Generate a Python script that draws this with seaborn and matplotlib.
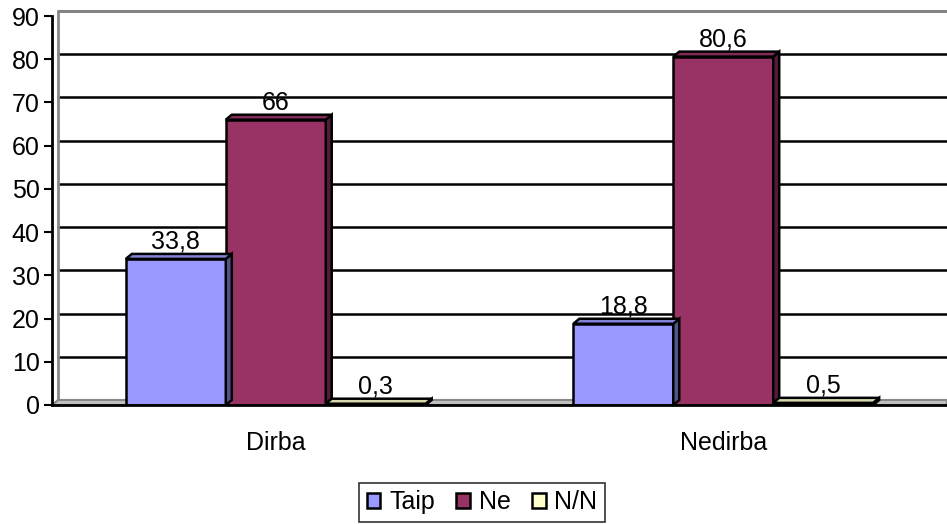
import pandas as pd
import numpy as np
import matplotlib.pyplot as plt
import matplotlib.colors as mcolors
from matplotlib.patches import Polygon
import seaborn as sns

sns.set_style('white')
plt.rcParams['font.family'] = ['Liberation Sans', 'DejaVu Sans']
plt.rcParams['text.color'] = 'black'
plt.rcParams['xtick.color'] = 'black'
plt.rcParams['ytick.color'] = 'black'

categories = ['Dirba', 'Nedirba']
answers = ['Taip', 'Ne', 'N/N']
taip = [33.8, 18.8]
ne = [66, 80.6]
nn = [0.3, 0.5]
yticks = [0, 10, 20, 30, 40, 50, 60, 70, 80, 90]

rows = []
for i, c in enumerate(categories):
    for a, vals in zip(answers, [taip, ne, nn]):
        rows.append({'cat': c, 'ans': a, 'val': vals[i]})
df = pd.DataFrame(rows)

colors = ['#9999FF', '#993366', '#FFFFCC']
FS = 18

fig = plt.figure(figsize=(9.47, 5.24), dpi=100)
W, H = 947, 524
ax = fig.add_axes([52 / W, 1 - 405 / H, (W - 52) / W, (405 - 16) / H])

sns.barplot(data=df, x='cat', y='val', hue='ans', hue_order=answers,
            palette=colors, width=0.67, edgecolor='black', linewidth=1.8,
            saturation=1, ax=ax, zorder=3)

ax.set_xlim(-0.5, 1.5)
ax.set_ylim(0, 90)

# depth offset (~6px right, ~5px up)
dx = 6 * 2.0 / (W - 52)
dy = 5 * 90.0 / (405 - 16)

# back wall gridlines
for t in yticks[1:]:
    ax.plot([-0.5 + dx, 1.5], [t + dy, t + dy], color='black', lw=1.8, zorder=1, clip_on=False)
# back wall frame (grey)
ax.plot([-0.5 + dx, -0.5 + dx, 1.5], [dy, 90 + dy, 90 + dy], color='#888888', lw=2, zorder=1, clip_on=False)
floor = Polygon([[-0.5, 0], [-0.5 + dx, dy], [1.5, dy], [1.5, 0]], closed=True,
                facecolor='#c0c0c0', edgecolor='#888888', lw=1.5, zorder=2, clip_on=False)
ax.add_patch(floor)

# 3D faces for each bar
for cont, col in zip(ax.containers, colors):
    rgb = np.array(mcolors.to_rgb(col))
    for bar, val in zip(cont, cont.datavalues):
        x0 = bar.get_x()
        x1 = x0 + bar.get_width()
        h = bar.get_height()
        top = Polygon([[x0, h], [x0 + dx, h + dy], [x1 + dx, h + dy], [x1, h]], closed=True,
                      facecolor=rgb * 0.85, edgecolor='black', lw=1.8, zorder=3.5)
        side = Polygon([[x1, 0], [x1 + dx, dy], [x1 + dx, h + dy], [x1, h]], closed=True,
                       facecolor=rgb * 0.55, edgecolor='black', lw=1.8, zorder=3.5)
        ax.add_patch(side)
        ax.add_patch(top)
        lab = f'{val:g}'.replace('.', ',')
        ax.annotate(lab, (x0 + bar.get_width() / 2, h + dy), xytext=(0, 0),
                    textcoords='offset points', ha='center', va='bottom',
                    fontsize=FS, zorder=5)

handles, labels = ax.get_legend_handles_labels()
ax.get_legend().remove()

ax.set_yticks(yticks)
ax.set_yticklabels([str(t) for t in yticks], fontsize=FS)
ax.set_xticks([0, 1])
ax.set_xticklabels(categories, fontsize=FS)
ax.set_xticks([-0.5, 0.5, 1.5], minor=True)
ax.tick_params(axis='x', which='major', length=0, pad=19)
ax.tick_params(axis='x', which='minor', length=7, width=1.5, color='black', direction='out')
ax.tick_params(axis='y', length=6, width=1.5, color='black', direction='out', pad=3, left=True)
ax.set_xlabel('')
ax.set_ylabel('')
for s in ['top', 'right']:
    ax.spines[s].set_visible(False)
for s in ['left', 'bottom']:
    ax.spines[s].set_color('black')
    ax.spines[s].set_linewidth(2)
    ax.spines[s].set_zorder(6)

leg = fig.legend(handles, labels, loc='lower center', bbox_to_anchor=(482 / W, 0.0),
                 ncol=3, fontsize=FS, frameon=True, fancybox=False, edgecolor='black',
                 handlelength=0.55, handleheight=0.55, handletextpad=0.35, columnspacing=0.85,
                 borderpad=0.3, borderaxespad=0.1)
leg.get_frame().set_linewidth(1.2)

fig.savefig('out.png', dpi=100)
